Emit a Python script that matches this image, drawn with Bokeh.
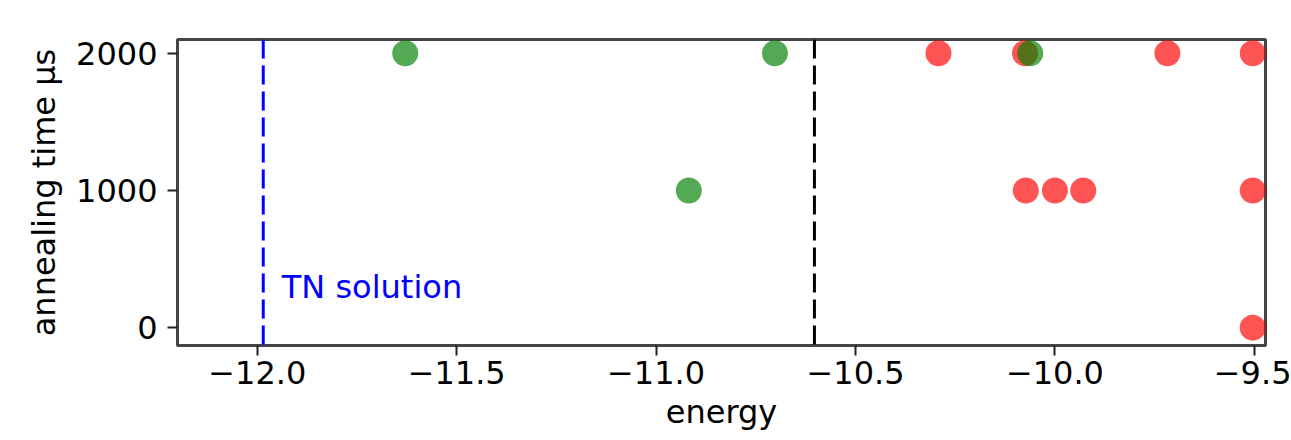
from bokeh.plotting import figure
from bokeh.models import Range1d, FixedTicker, Span, Label
from bokeh.embed import file_html
from bokeh.resources import INLINE

# ---- data ----
red_energy = [-10.292, -10.075, -9.718, -9.504, -10.073, -10.0, -9.929, -9.504, -9.504]
red_time = [2000, 2000, 2000, 2000, 1000, 1000, 1000, 1000, 0]
green_energy = [-11.629, -10.702, -10.062, -10.918]
green_time = [2000, 2000, 2000, 1000]
tn_solution = -11.985
threshold = -10.603
tn_label = "TN solution"
x_ticks = [-12.0, -11.5, -11.0, -10.5, -10.0, -9.5]
x_tick_labels = ["\u221212.0", "\u221211.5", "\u221211.0", "\u221210.5", "\u221210.0", "\u22129.5"]
y_ticks = [0, 1000, 2000]
y_tick_labels = ["0", "1000", "2000"]
x_title = "energy"
y_title = "annealing time \u00b5s"

FONT = "DejaVu Sans"
FS = "32px"

p = figure(width=1291, height=440, output_backend="svg", toolbar_location=None,
           x_range=Range1d(-12.2, -9.472), y_range=Range1d(-130, 2100),
           min_border_left=177, min_border_right=26, min_border_top=39, min_border_bottom=95,
           background_fill_color="white", border_fill_color="white")
p.grid.visible = False
p.outline_line_color = "#444444"
p.outline_line_width = 3

p.scatter(red_energy, red_time, size=26, fill_color="red", fill_alpha=0.67, line_color=None)
p.scatter(green_energy, green_time, size=26, fill_color="green", fill_alpha=0.67, line_color=None)

p.add_layout(Span(location=tn_solution, dimension="height", line_color="blue",
                  line_dash="19 7", line_width=3))
p.add_layout(Span(location=threshold, dimension="height", line_color="black",
                  line_dash="19 7", line_width=3))
p.add_layout(Label(x=-11.9385, y=298, text=tn_label, text_color="blue",
                   text_font=FONT, text_font_size=FS, text_baseline="alphabetic"))

for ax in (p.xaxis[0], p.yaxis[0]):
    ax.axis_line_color = "#444444"
    ax.axis_line_width = 3
    ax.major_tick_out = 10
    ax.major_tick_in = 0
    ax.minor_tick_line_color = None
    ax.major_tick_line_color = "#222222"
    ax.major_tick_line_width = 2
    ax.major_label_text_font = FONT
    ax.major_label_text_font_size = FS
    ax.major_label_text_color = "black"
    ax.axis_label_text_font = FONT
    ax.axis_label_text_font_size = FS
    ax.axis_label_text_font_style = "normal"
    ax.axis_label_text_color = "black"

p.xaxis.ticker = FixedTicker(ticks=x_ticks)
p.xaxis.major_label_overrides = dict(zip(x_ticks, x_tick_labels))
p.xaxis.axis_label = x_title
p.xaxis.major_label_standoff = 5
p.xaxis.axis_label_standoff = 6

p.yaxis.ticker = FixedTicker(ticks=y_ticks)
p.yaxis.major_label_overrides = dict(zip(y_ticks, y_tick_labels))
p.yaxis.axis_label = y_title
p.yaxis.major_label_standoff = 10
p.yaxis.axis_label_standoff = 10

open("out.html", "w").write(file_html(p, INLINE))
